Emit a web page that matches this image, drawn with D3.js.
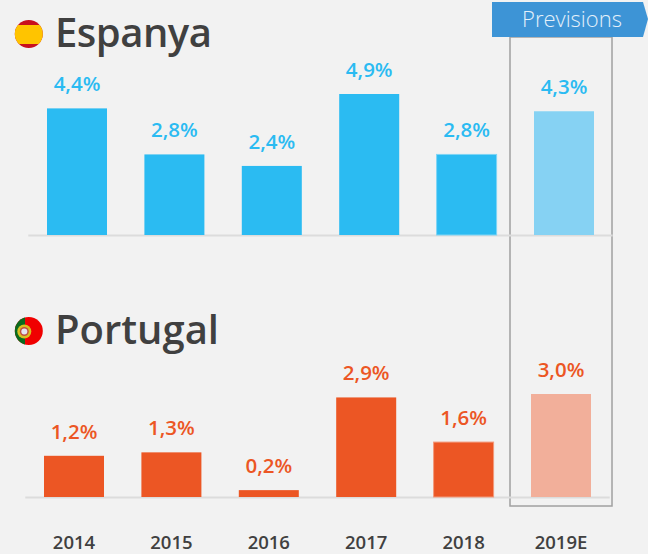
<!DOCTYPE html>
<html><head><meta charset="utf-8">
<script src="https://cdnjs.cloudflare.com/ajax/libs/d3/7.8.5/d3.min.js"></script>
<style>html,body{margin:0;padding:0;background:#f2f2f2}svg{display:block}text{font-family:"Open Sans",sans-serif}</style>
</head><body><svg id="c" width="648" height="554"></svg>
<script>
const years=["2014","2015","2016","2017","2018","2019E"];
const spainValues=[4.4,2.8,2.4,4.9,2.8,4.3];
const portugalValues=[1.2,1.3,0.2,2.9,1.6,3.0];
const fmt=v=>d3.format(".1f")(v).replace(".",",")+"%";
const svg=d3.select("#c");
svg.append("rect").attr("width",648).attr("height",554).attr("fill","#f2f2f2");
const defs=svg.append("defs");

function panel(values,x0,x1,base,topY,maxV,color,light,edge){
  const x=d3.scaleBand().domain(years).range([x0,x1]).paddingInner(0.384).paddingOuter(0.192);
  const y=d3.scaleLinear().domain([0,maxV]).range([base,topY]);
  const g=svg.append("g");
  g.append("line").attr("x1",x0).attr("x2",x1).attr("y1",base+0.5).attr("y2",base+0.5)
    .attr("stroke","#dcdcdc").attr("stroke-width",2);
  g.selectAll("rect").data(values).join("rect")
    .attr("x",(d,i)=>x(years[i])).attr("width",x.bandwidth())
    .attr("y",d=>y(d)).attr("height",d=>base-y(d))
    .attr("fill",(d,i)=>i===5?light:color)
    .attr("stroke",(d,i)=>i===4?edge:"none").attr("stroke-width",1);
  g.selectAll("text").data(values).join("text")
    .attr("x",(d,i)=>x(years[i])+x.bandwidth()/2).attr("y",d=>y(d)-17)
    .attr("text-anchor","middle").attr("font-size",20.5).attr("font-weight",600).attr("fill",color)
    .text(fmt);
  return x;
}
// frame behind bars
svg.append("rect").attr("x",510).attr("y",37).attr("width",102).attr("height",469)
  .attr("fill","none").attr("stroke","#a0a0a0").attr("stroke-width",1.5);

panel(spainValues,28.3,612.7,235,94,4.9,"#2bbbf2","#86d2f3","#7fd4f5");
const xP=panel(portugalValues,25.3,609.7,497,394,3.0,"#ec5624","#f2af9a","#f29a7c");

svg.append("g").selectAll("text").data(years).join("text")
  .attr("x",d=>xP(d)+xP.bandwidth()/2).attr("y",548.5).attr("text-anchor","middle")
  .attr("font-size",18.5).attr("font-weight",600).attr("fill","#404040").text(d=>d);

// banner
svg.append("path").attr("d",d3.line()([[492,2],[643,2],[648,19],[643,37],[492,37]])+"Z")
  .attr("fill","#3d94d6");
svg.append("text").attr("x",572).attr("y",27).attr("text-anchor","middle").attr("font-size",22)
  .attr("font-weight",300).attr("fill","#e4f0fa").text("Previsions");

// titles
const title=(t,y,ls)=>svg.append("text").attr("x",55).attr("y",y).attr("font-size",40).attr("font-weight",600)
  .attr("letter-spacing",ls).attr("fill","#404040").text(t);
title("Espanya",47,-0.5);title("Portugal",344,0);

// flags
const cl=(id,cy)=>defs.append("clipPath").attr("id",id).append("circle").attr("cx",28.8).attr("cy",cy).attr("r",14);
cl("fe",34);cl("fp",331);
const fe=svg.append("g").attr("clip-path","url(#fe)");
fe.append("rect").attr("x",14).attr("y",20).attr("width",29).attr("height",28).attr("fill","#c8101e");
fe.append("rect").attr("x",14).attr("y",25).attr("width",29).attr("height",19).attr("fill","#ffc400");
const fp=svg.append("g").attr("clip-path","url(#fp)");
fp.append("rect").attr("x",14).attr("y",317).attr("width",30).attr("height",28).attr("fill","#f00000");
fp.append("rect").attr("x",14).attr("y",317).attr("width",11).attr("height",28).attr("fill","#0a6b1e");
fp.append("circle").attr("cx",24.3).attr("cy",331.5).attr("r",7).attr("fill","#d8c020");
fp.append("circle").attr("cx",24.3).attr("cy",331.5).attr("r",4.5).attr("fill","#c05040");
fp.append("circle").attr("cx",24.3).attr("cy",331.5).attr("r",3).attr("fill","#e4e4f0");
</script></body></html>
